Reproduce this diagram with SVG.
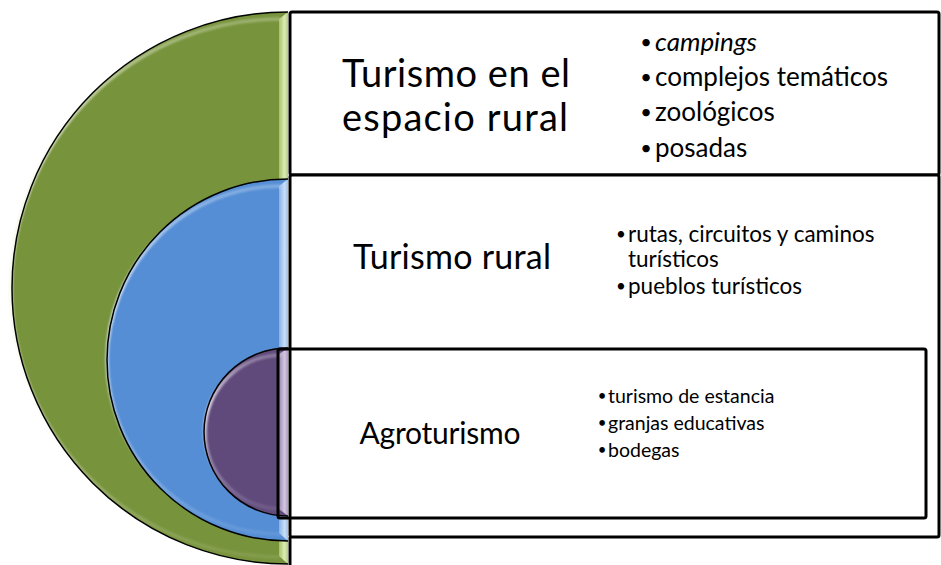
<svg xmlns="http://www.w3.org/2000/svg" width="941" height="565" viewBox="0 0 941 565">
<style>
.box{fill:none;stroke:#000;stroke-width:3}
.t{font-family:Lato,"Liberation Sans",sans-serif;fill:#000}
.b{font-family:Lato,"Liberation Sans",sans-serif;fill:#000;text-anchor:middle}
.edge{stroke:#000;stroke-width:1.5}
.hl{fill:none;stroke-width:3.5;filter:url(#blur)}
</style>
<defs>
<filter id="blur" x="-10%" y="-10%" width="120%" height="120%"><feGaussianBlur stdDeviation="1.2"/></filter>
<linearGradient id="hlG" x1="0" y1="0" x2="0" y2="1"><stop offset="0" stop-color="#F2F7E3" stop-opacity="0.3"/><stop offset="0.3" stop-color="#F2F7E3" stop-opacity="0.95"/><stop offset="0.6" stop-color="#F2F7E3" stop-opacity="0.6"/><stop offset="1" stop-color="#F2F7E3" stop-opacity="0.1"/></linearGradient>
<linearGradient id="hlB" x1="0" y1="0" x2="0" y2="1"><stop offset="0" stop-color="#E6F0FB" stop-opacity="0.3"/><stop offset="0.35" stop-color="#E6F0FB" stop-opacity="0.95"/><stop offset="0.65" stop-color="#E6F0FB" stop-opacity="0.5"/><stop offset="1" stop-color="#E6F0FB" stop-opacity="0.1"/></linearGradient>
<linearGradient id="hlP" x1="0" y1="0" x2="0" y2="1"><stop offset="0" stop-color="#EEE8F5" stop-opacity="0.3"/><stop offset="0.35" stop-color="#EEE8F5" stop-opacity="0.95"/><stop offset="0.7" stop-color="#EEE8F5" stop-opacity="0.4"/><stop offset="1" stop-color="#EEE8F5" stop-opacity="0.1"/></linearGradient>
<linearGradient id="stG" x1="0" y1="0" x2="1" y2="0"><stop offset="0" stop-color="#A6C265"/><stop offset="0.6" stop-color="#DDEAB8"/><stop offset="1" stop-color="#B5CD7E"/></linearGradient>
<linearGradient id="stB" x1="0" y1="0" x2="1" y2="0"><stop offset="0" stop-color="#86B2E6"/><stop offset="0.6" stop-color="#C8DDF5"/><stop offset="1" stop-color="#A0C2EC"/></linearGradient>
<linearGradient id="stP" x1="0" y1="0" x2="1" y2="0"><stop offset="0" stop-color="#9A86B2"/><stop offset="0.6" stop-color="#D2C6E0"/><stop offset="1" stop-color="#AF9DC6"/></linearGradient>
</defs>

<g id="circle-espacio-rural">
<path d="M288,12 A276,276 0 0 0 288,564 Z" fill="#77933C"/>
<path d="M279,19 L288,12 L288,564 L279,556 Z" fill="url(#stG)"/>
<path class="hl" d="M280,19 A269,269 0 0 0 280,557" stroke="url(#hlG)"/>
<path class="edge" d="M288,12 A276,276 0 0 0 288,564" fill="none"/>
</g>
<g id="circle-turismo-rural">
<path d="M288,179 A181,181 0 0 0 288,541 Z" fill="#558ED5"/>
<path d="M279,186 L288,179 L288,541 L279,533 Z" fill="url(#stB)"/>
<path class="hl" d="M281,186 A174,174 0 0 0 281,534" stroke="url(#hlB)"/>
<path class="edge" d="M288,179 A181,181 0 0 0 288,541" fill="none"/>
</g>
<g id="circle-agroturismo">
<path d="M288,348 A84,84 0 0 0 288,516 Z" fill="#604A7B"/>
<path d="M279,354 L288,348 L288,516 L279,509 Z" fill="url(#stP)"/>
<path class="hl" d="M282,355 A77,77 0 0 0 282,509" stroke="url(#hlP)"/>
<path class="edge" d="M288,348 A84,84 0 0 0 288,516" fill="none"/>
</g>

<g id="box-espacio-rural">
<rect class="box" x="290" y="12" width="649" height="163" rx="2" style="fill:#fff"/>
<text class="t" font-size="38" text-anchor="middle" x="456" y="87" textLength="228">Turismo en el</text>
<text class="t" font-size="38" text-anchor="middle" x="455" y="131" textLength="226">espacio rural</text>
<text class="b" font-size="20" x="646" y="49">•</text>
<text class="t" font-size="26" x="655" y="51" font-style="italic">campings</text>
<text class="b" font-size="20" x="646" y="84">•</text>
<text class="t" font-size="26" x="655" y="86">complejos temáticos</text>
<text class="b" font-size="20" x="646" y="119">•</text>
<text class="t" font-size="26" x="655" y="121">zoológicos</text>
<text class="b" font-size="20" x="646" y="155">•</text>
<text class="t" font-size="26" x="655" y="157">posadas</text>
</g>

<g id="box-turismo-rural">
<rect class="box" x="290" y="175" width="649" height="362" rx="2" style="fill:#fff"/>
<text class="t" font-size="34" text-anchor="middle" x="452" y="269" textLength="198">Turismo rural</text>
<text class="b" font-size="17" x="621" y="240">•</text>
<text class="t" font-size="22.5" x="628" y="242">rutas, circuitos y caminos</text>
<text class="t" font-size="22.5" x="628" y="267">turísticos</text>
<text class="b" font-size="17" x="621" y="292">•</text>
<text class="t" font-size="22.5" x="628" y="294">pueblos turísticos</text>
</g>

<g id="box-agroturismo">
<rect class="box" x="278" y="349" width="648" height="169" rx="2"/>
<text class="t" font-size="30" text-anchor="middle" x="440" y="444" textLength="161">Agroturismo</text>
<text class="b" font-size="15" x="602" y="401">•</text>
<text class="t" font-size="19.5" x="608" y="403">turismo de estancia</text>
<text class="b" font-size="15" x="602" y="428">•</text>
<text class="t" font-size="19.5" x="608" y="430">granjas educativas</text>
<text class="b" font-size="15" x="602" y="455">•</text>
<text class="t" font-size="19.5" x="608" y="457">bodegas</text>
</g>

<g id="connectors">
<line x1="290" y1="537" x2="290" y2="565" stroke="#000" stroke-width="3"/>
</g>
</svg>
